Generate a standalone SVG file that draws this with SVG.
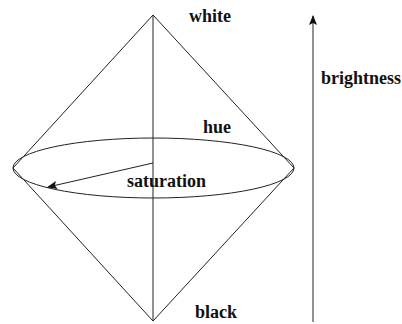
<svg xmlns="http://www.w3.org/2000/svg" width="402" height="324" viewBox="0 0 402 324">
<style>
.ln{stroke:#222;stroke-width:1;fill:none}
</style>
<defs>
<marker id="ah" markerWidth="10" markerHeight="10" refX="9" refY="5" orient="auto" markerUnits="userSpaceOnUse">
<path d="M0,1 L10,5 L0,9 L2,5 Z" fill="#111"/>
</marker>
</defs>
<rect width="402" height="324" fill="#fff"/>
<g id="cone">
<polygon class="ln" points="153,15 13,168 153,321 294,168"/>
<line class="ln" x1="153" y1="15" x2="153" y2="321"/>
<ellipse class="ln" cx="153.5" cy="168" rx="140.5" ry="30"/>
</g>
<g id="connectors">
<line class="ln" x1="153" y1="163" x2="48" y2="187" marker-end="url(#ah)"/>
<line class="ln" x1="313" y1="322" x2="313" y2="16" marker-end="url(#ah)"/>
</g>
<g id="labels" fill="#111">
<text x="189" y="22" font-family="Liberation Serif" font-weight="bold" font-size="18">white</text>
<text x="321" y="84" font-family="Liberation Serif" font-weight="bold" font-size="18">brightness</text>
<text x="203" y="133" font-family="Liberation Serif" font-weight="bold" font-size="18">hue</text>
<text x="127" y="187" font-family="Liberation Serif" font-weight="bold" font-size="18">saturation</text>
<text x="195" y="318" font-family="Liberation Serif" font-weight="bold" font-size="18">black</text>
</g>
</svg>
